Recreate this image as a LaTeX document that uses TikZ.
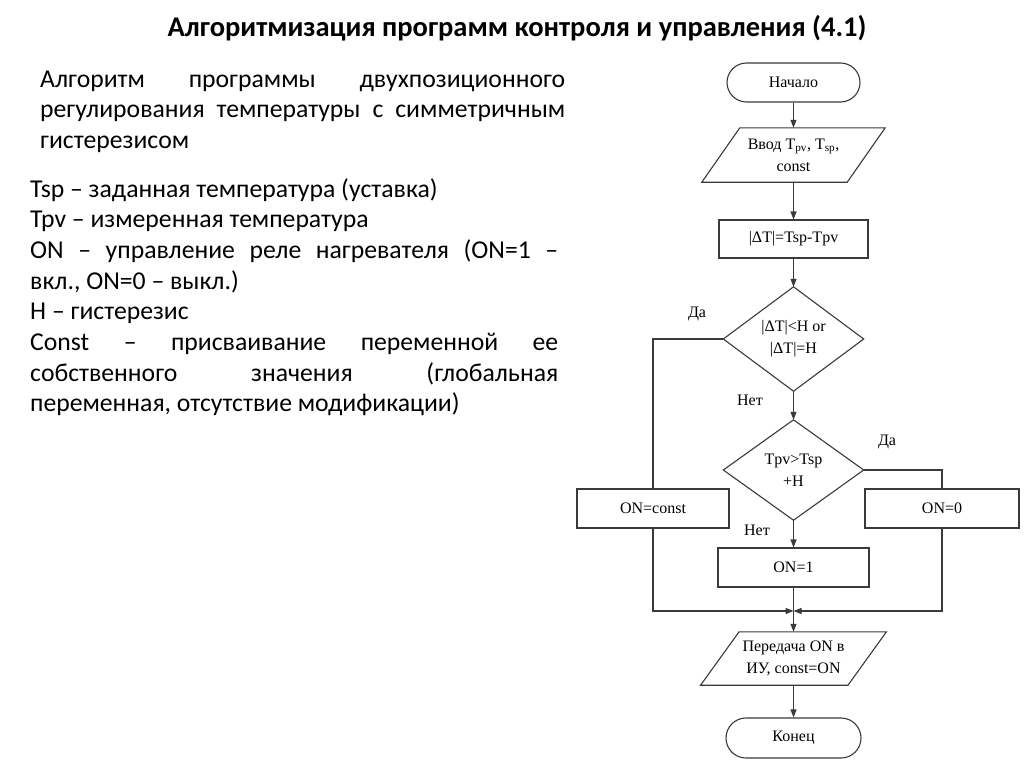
\documentclass[tikz,border=0pt]{standalone}
\usepackage{fontspec}
\setmainfont{Liberation Serif}
\newfontfamily\calfont{Carlito}
\usetikzlibrary{arrows.meta,calc}
\definecolor{lc}{HTML}{3A3A3A}
\begin{document}
\begin{tikzpicture}[x=1pt,y=-1pt,
  fc/.style={draw=lc, line width=1.1pt},
  arr/.style={fc, -{Triangle[length=8pt,width=6pt]}},
  ft/.style={font=\fontsize{16}{22}\selectfont, align=center, text=black},
  box/.style={ft, draw=lc, line width=1.1pt, inner sep=0pt, minimum height=39pt},
  term/.style={box, rounded corners=19.5pt},
  ghost/.style={ft, inner sep=0pt},
  bt/.style={anchor=base west, inner sep=0pt, font=\calfont\fontsize{25.7}{30}\selectfont},
]
\useasboundingbox[fill=white] (0,0) rectangle (1024,768);

\node[anchor=base, inner sep=0pt, font=\calfont\bfseries\fontsize{28.5}{32}\selectfont] (title) at (517,37) {Алгоритмизация программ контроля и управления (4.1)};

\node[bt] (a1) at (40,87) {\makebox[525pt][s]{Алгоритм программы двухпозиционного}};
\node[bt] (a2) at (40,117.5) {\makebox[525pt][s]{регулирования температуры с симметричным}};
\node[bt] (a3) at (40,148) {гистерезисом};

\node[bt] (b1) at (30,197) {Tsp – заданная температура (уставка)};
\node[bt] (b2) at (30,227.7) {Tpv – измеренная температура};
\node[bt] (b3) at (30,258.4) {\makebox[528pt][s]{ON – управление реле нагревателя (ON=1 –}};
\node[bt] (b4) at (30,289.1) {вкл., ON=0 – выкл.)};
\node[bt] (b5) at (30,319.8) {H – гистерезис};
\node[bt] (b6) at (30,350.5) {\makebox[528pt][s]{Const – присваивание переменной ее}};
\node[bt] (b7) at (30,381.2) {\makebox[528pt][s]{собственного значения (глобальная}};
\node[bt] (b8) at (30,411.9) {переменная, отсутствие модификации)};

% flowchart
\node[term, minimum width=133pt] (start) at (793.5,82.5) {Начало};
\node[ghost, minimum width=145pt, minimum height=54pt] (in1) at (793.5,155) {Ввод T\textsubscript{pv}, T\textsubscript{sp},\\const};
\draw[fc] ($(in1.north west)+(19,0)$) -- ($(in1.north east)+(19,0)$) -- ($(in1.south east)+(-19,0)$) -- ($(in1.south west)+(-19,0)$) -- cycle;
\node[box, minimum width=149pt, minimum height=38pt] (r1) at (793.5,239) {|ΔT|=Tsp-Tpv};
\node[ghost, minimum width=140pt, minimum height=104pt] (d1) at (793.5,339) {|ΔT|<H or\\|ΔT|=H};
\draw[fc] (d1.north) -- (d1.east) -- (d1.south) -- (d1.west) -- cycle;
\node[ghost, minimum width=140pt, minimum height=100pt] (d2) at (793.5,470) {Tpv>Tsp\\+H};
\draw[fc] (d2.north) -- (d2.east) -- (d2.south) -- (d2.west) -- cycle;
\node[box, minimum width=152pt] (onc) at (653,508.5) {ON=const};
\node[box, minimum width=154pt] (on0) at (942,508.5) {ON=0};
\node[box, minimum width=151pt] (on1) at (793.5,567.5) {ON=1};
\node[ghost, minimum width=147pt, minimum height=53pt] (out) at (793.5,658.5) {Передача ON в\\ИУ, const=ON};
\draw[fc] ($(out.north west)+(19.25,0)$) -- ($(out.north east)+(19.25,0)$) -- ($(out.south east)+(-19.25,0)$) -- ($(out.south west)+(-19.25,0)$) -- cycle;
\node[term, minimum width=135pt, minimum height=40pt, rounded corners=20pt] (end) at (793.5,738) {Конец};

\coordinate (m) at (793.5,611);
\draw[arr] (start.south) -- (in1.north);
\draw[arr] (in1.south) -- (r1.north);
\draw[arr] (r1.south) -- (d1.north);
\draw[arr] (d1.south) -- (d2.north);
\draw[fc] (d1.west) -| (onc.north);
\draw[fc] (d2.east) -| (on0.north);
\draw[arr] (d2.south) -- (on1.north);
\draw[arr] (onc.south) |- (m);
\draw[arr] (on0.south) |- (m);
\draw[fc] (on1.south) -- (m);
\draw[arr] (m) -- (out.north);
\draw[arr] (out.south) -- (end.north);

\node[ft] (da1) at (697,314) {Да};
\node[ft] (net1) at (750,400) {Нет};
\node[ft] (da2) at (887,442) {Да};
\node[ft] (net2) at (757,530) {Нет};
\end{tikzpicture}
\end{document}
